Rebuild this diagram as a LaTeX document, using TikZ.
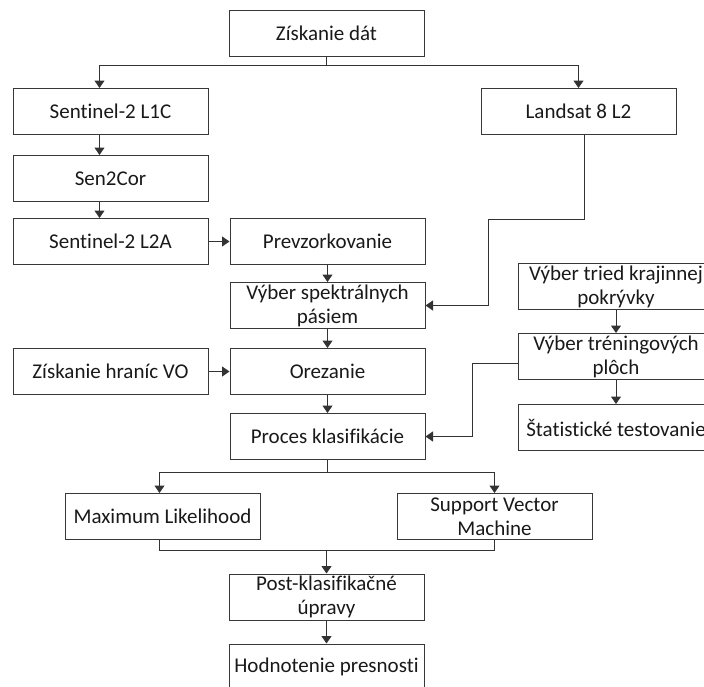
\documentclass[tikz,border=0pt]{standalone}
\usepackage{fontspec}
\setmainfont{Carlito}[Ligatures=NoCommon]
\usepackage{tikz}
\usetikzlibrary{arrows.meta}
\usetikzlibrary{positioning}

\begin{document}
\begin{tikzpicture}[
    x=1pt, y=-1pt, % pixel-like units, y grows downwards
    every node/.style={font=\fontsize{21}{24}\selectfont, text=black!90}, % Calibri-like text for all nodes
    box/.style={rectangle, draw=black!78, line width=1pt, minimum width=195pt, minimum height=46pt, inner sep=1pt, align=center}, % process boxes
    line/.style={draw=black!80, line width=1pt}, % plain connector
    arr/.style={line, -{Triangle[length=7.5pt,width=10pt]}} % connector with arrow at the end
]
    \useasboundingbox (0,0) rectangle (704,686);

    % Top of the diagram: data sources
    \node[box] (dat) at (326.5,33) {Získanie dát};
    \node[box] (s1c) at (110.5,111.5) {Sentinel-2 L1C};
    \node[box] (landsat) [right=272pt of s1c] {Landsat 8 L2};
    \node[box] (sen2cor) [below=20pt of s1c] {Sen2Cor};
    \node[box] (s2a) [below=16pt of sen2cor] {Sentinel-2 L2A};

    % Main column
    \node[box] (prev) [right=21pt of s2a] {Prevzorkovanie};
    \node[box] (spek) [below=17pt of prev] {Výber spektrálnych\\pásiem};
    \node[box] (orez) [below=19pt of spek] {Orezanie};
    \node[box] (hranic) [left=21pt of orez] {Získanie hraníc VO};
    \node[box] (proces) [below=18pt of orez] {Proces klasifikácie};

    % Training data column on the right
    \node[box] (tried) at (616,286.5) {Výber tried krajinnej\\pokrývky};
    \node[box] (tren) [below=23pt of tried] {Výber tréningových\\plôch};
    \node[box] (stat) [below=24pt of tren] {Štatistické testovanie};

    % Classifiers and post-processing
    \node[box] (ml) at (162.5,516.5) {Maximum Likelihood};
    \node[box] (svm) [right=136pt of ml] {Support Vector\\Machine};
    \node[box] (post) at (326.5,597) {Post-klasifikačné\\úpravy};
    \node[box] (hodn) [below=23pt of post] {Hodnotenie presnosti};

    % Split below Získanie dát
    \coordinate[below=9pt of dat] (dat-split);
    \draw[line] (dat.south) -- (dat-split);
    \draw[arr] (dat-split) -| ([xshift=-11pt]s1c.north);
    \draw[arr] (dat-split) -| (landsat.north);

    % Sentinel chain
    \draw[arr] ([xshift=-11pt]s1c.south) -- ([xshift=-11pt]sen2cor.north);
    \draw[arr] ([xshift=-11pt]sen2cor.south) -- ([xshift=-11pt]s2a.north);
    \draw[arr] (s2a) -- (prev);
    \draw[arr] (prev) -- (spek);
    \draw[arr] (spek) -- (orez);
    \draw[arr] (hranic) -- (orez);
    \draw[arr] (orez) -- (proces);

    % Landsat joins the band selection
    \draw[arr] ([xshift=6pt]landsat.south) |- (488,219) |- (spek.east);

    % Training samples
    \draw[arr] (tried) -- (tren);
    \draw[arr] (tren) -- (stat);
    \draw[arr] ([yshift=-7pt]tren.west) -- ++(-46,0) |- (proces.east);

    % Split to the two classifiers
    \coordinate[below=12pt of proces] (proc-split);
    \draw[line] (proces.south) -- (proc-split);
    \draw[arr] (proc-split) -| ([xshift=-3pt]ml.north);
    \draw[arr] (proc-split) -| (svm.north);

    % Merge into post-processing
    \path ([xshift=-3pt]ml.south) ++(0,10) coordinate (ml-low);
    \draw[line] ([xshift=-3pt]ml.south) -- (ml-low) -| (svm.south);
    \draw[arr] (ml-low -| post.north) -- (post.north);
    \draw[arr] (post) -- (hodn);
\end{tikzpicture}
\end{document}
